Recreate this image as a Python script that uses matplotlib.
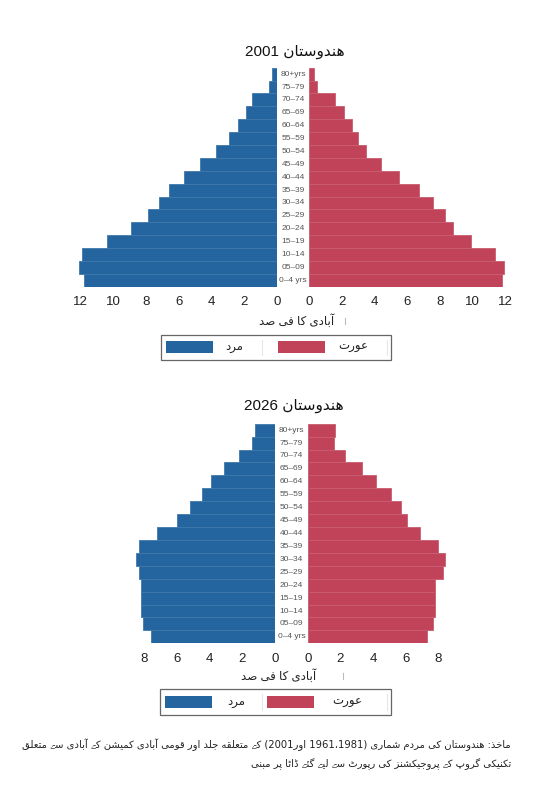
import re
import numpy as np
import matplotlib
matplotlib.use('Agg')
import matplotlib.pyplot as plt
from matplotlib import font_manager as fm
from matplotlib.ft2font import FT2Font
from matplotlib.patches import Rectangle
from matplotlib.lines import Line2D

# data: age groups from bottom (0-4) to top (80+), percent of population
ages = ['0–4 yrs', '05–09', '10–14', '15–19', '20–24', '25–29', '30–34', '35–39',
        '40–44', '45–49', '50–54', '55–59', '60–64', '65–69', '70–74', '75–79', '80+yrs']
male_2001 = [11.8, 12.1, 11.9, 10.4, 8.9, 7.9, 7.2, 6.6, 5.7, 4.7, 3.7, 2.9, 2.4, 1.9, 1.5, 0.5, 0.3]
female_2001 = [11.8, 11.9, 11.4, 9.9, 8.8, 8.3, 7.6, 6.7, 5.5, 4.4, 3.5, 3.0, 2.6, 2.1, 1.6, 0.5, 0.3]
male_2026 = [7.6, 8.1, 8.2, 8.2, 8.2, 8.3, 8.5, 8.3, 7.2, 6.0, 5.2, 4.5, 3.9, 3.1, 2.2, 1.4, 1.2]
female_2026 = [7.3, 7.7, 7.8, 7.8, 7.8, 8.3, 8.4, 8.0, 6.9, 6.1, 5.7, 5.1, 4.2, 3.3, 2.3, 1.6, 1.7]
ticks_2001 = [0, 2, 4, 6, 8, 10, 12]
ticks_2026 = [0, 2, 4, 6, 8]

title_2001 = 'ہندوستان 2001'
title_2026 = 'ہندوستان 2026'
xlabel = 'آبادی کا فی صد'
lab_male = 'مرد'
lab_female = 'عورت'
source_1 = 'ماخذ: ہندوستان کی مردم شماری (1961،1981 اور2001) کے متعلقہ جلد اور قومی آبادی کمیشن کے آبادی سے متعلق'
source_2 = 'تکنیکی گروپ کے پروجیکشنز کی رپورٹ سے لیے گئے ڈاٹا پر مبنی'

BLUE = '#24659f'
BLUE_EDGE = '#3f78ab'
RED = '#c0435a'
RED_EDGE = '#c95d71'

# --- fonts: DejaVu Sans has Arabic, look for an installed family with yeh barree too ---
ar_fonts = ['DejaVu Sans']
dv = FT2Font(fm.findfont('DejaVu Sans'))
extra = None
for f in fm.fontManager.ttflist:
    if f.name in ar_fonts:
        continue
    try:
        ft = FT2Font(f.fname)
    except Exception:
        continue
    if ft.get_char_index(0x06D2) or ft.get_char_index(0xFBAE):
        ar_fonts.append(f.name)
        extra = ft
        break

plt.rcParams['font.family'] = ['Liberation Sans'] + ar_fonts


def has(cp, ch):
    # keep everything in DejaVu Sans, only yeh barree may come from the other family
    if dv.get_char_index(cp):
        return True
    return ch == 'ے' and extra is not None and extra.get_char_index(cp) != 0


# --- small arabic shaper (matplotlib has no RTL / joining support) ---
FORMS = {
    'ا': (0xFE8D, 0xFE8E), 'آ': (0xFE81, 0xFE82), 'د': (0xFEA9, 0xFEAA), 'ذ': (0xFEAB, 0xFEAC),
    'ر': (0xFEAD, 0xFEAE), 'ز': (0xFEAF, 0xFEB0), 'و': (0xFEED, 0xFEEE), 'ڈ': (0xFB88, 0xFB89),
    'ے': (0xFBAE, 0xFBAF),
    'ب': (0xFE8F, 0xFE90, 0xFE91, 0xFE92), 'پ': (0xFB56, 0xFB57, 0xFB58, 0xFB59),
    'ت': (0xFE95, 0xFE96, 0xFE97, 0xFE98), 'ٹ': (0xFB66, 0xFB67, 0xFB68, 0xFB69),
    'ج': (0xFE9D, 0xFE9E, 0xFE9F, 0xFEA0), 'خ': (0xFEA5, 0xFEA6, 0xFEA7, 0xFEA8),
    'س': (0xFEB1, 0xFEB2, 0xFEB3, 0xFEB4), 'ش': (0xFEB5, 0xFEB6, 0xFEB7, 0xFEB8),
    'ص': (0xFEB9, 0xFEBA, 0xFEBB, 0xFEBC), 'ع': (0xFEC9, 0xFECA, 0xFECB, 0xFECC),
    'ف': (0xFED1, 0xFED2, 0xFED3, 0xFED4), 'ق': (0xFED5, 0xFED6, 0xFED7, 0xFED8),
    'ک': (0xFB8E, 0xFB8F, 0xFB90, 0xFB91), 'گ': (0xFB92, 0xFB93, 0xFB94, 0xFB95),
    'ل': (0xFEDD, 0xFEDE, 0xFEDF, 0xFEE0), 'م': (0xFEE1, 0xFEE2, 0xFEE3, 0xFEE4),
    'ن': (0xFEE5, 0xFEE6, 0xFEE7, 0xFEE8), 'ہ': (0xFBA6, 0xFBA7, 0xFBA8, 0xFBA9),
    'ی': (0xFBFC, 0xFBFD, 0xFBFE, 0xFBFF), 'ئ': (0xFE89, 0xFE8A, 0xFE8B, 0xFE8C),
}
BACKUP = {
    'ہ': (0xFEE9, 0xFEEA, 0xFEEB, 0xFEEC), 'ی': (0xFEEF, 0xFEF0, 0xFEF3, 0xFEF4),
    'ک': (0xFED9, 0xFEDA, 0xFEDB, 0xFEDC), 'ٹ': (0xFE95, 0xFE96, 0xFE97, 0xFE98),
    'پ': (0xFE8F, 0xFE90, 0xFE91, 0xFE92), 'ڈ': (0xFEA9, 0xFEAA), 'گ': (0xFED9, 0xFEDA, 0xFEDB, 0xFEDC),
    'ے': (0x06D2, 0x06D2),
}
LAST = {'ے': (0xFEEF, 0xFEF0)}  # alef maksura when no font has yeh barree


def shape_word(w):
    out = []
    for i, ch in enumerate(w):
        if ch not in FORMS:
            out.append(ch)
            continue
        f = FORMS[ch]
        prev = w[i - 1] if i > 0 else ''
        nxt = w[i + 1] if i + 1 < len(w) else ''
        jp = prev in FORMS and len(FORMS[prev]) == 4
        jn = len(f) == 4 and nxt in FORMS
        k = 3 if (jp and jn) else 1 if jp else 2 if jn else 0
        if has(f[k], ch):
            out.append(chr(f[k]))
        elif ch in BACKUP and has(BACKUP[ch][k], ch):
            out.append(chr(BACKUP[ch][k]))
        elif ch in LAST:
            out.append(chr(LAST[ch][k]))
        else:
            out.append(ch)
    return ''.join(reversed(out))


def rtl(text):
    words = []
    for tok in text.split(' '):
        runs = re.findall(r'[\u0621-\u06FF]+|[0-9][0-9،.]*[0-9]|[0-9]|.', tok)
        parts = []
        for r in reversed(runs):
            if '\u0621' <= r[0] <= '\u06FF':
                parts.append(shape_word(r))
            else:
                parts.append(r.translate(str.maketrans('()', ')(')))
        words.append(''.join(parts))
    return ' '.join(reversed(words))


# --- figure in pixel layout ---
W, H = 553, 787
S = 16.33  # pixels per percent
fig = plt.figure(figsize=(W / 100, H / 100), dpi=100)


def box(x0, y0, x1, y1):
    return [x0 / W, 1 - y1 / H, (x1 - x0) / W, (y1 - y0) / H]


def pyramid(male, female, ticks, xmax, zl, zr, ytop, ybot):
    y = np.arange(len(ages))
    axl = fig.add_axes(box(zl - xmax * S, ytop, zl, ybot))
    axr = fig.add_axes(box(zr, ytop, zr + xmax * S, ybot))
    axl.barh(y, male, height=1.0, color=BLUE, edgecolor=BLUE_EDGE, linewidth=0.6)
    axr.barh(y, female, height=1.0, color=RED, edgecolor=RED_EDGE, linewidth=0.6)
    axl.set_xlim(xmax, 0)
    axr.set_xlim(0, xmax)
    for ax in (axl, axr):
        ax.set_ylim(-0.5, len(ages) - 0.5)
        ax.set_yticks([])
        ax.set_xticks(ticks)
        ax.tick_params(axis='x', length=0, pad=7, labelsize=9.5, labelcolor='#222222')
        for s in ax.spines.values():
            s.set_visible(False)
        ax.patch.set_visible(False)
    mid = -(zr - zl) / 2 / S
    for i, a in enumerate(ages):
        axl.text(mid, i, a, ha='center', va='center', fontsize=6, color='#555555', clip_on=False)


def legend(x0, x1, y0, y1, bx, rx, mx, fx):
    fig.add_artist(Rectangle((x0 / W, 1 - y1 / H), (x1 - x0) / W, (y1 - y0) / H,
                             transform=fig.transFigure, fill=False, edgecolor='#666666', linewidth=0.9))
    py0, py1 = y0 + 6.5, y1 - 6.5
    fig.add_artist(Rectangle((bx / W, 1 - py1 / H), 47 / W, (py1 - py0) / H,
                             transform=fig.transFigure, color=BLUE, linewidth=0))
    fig.add_artist(Rectangle((rx / W, 1 - py1 / H), 47 / W, (py1 - py0) / H,
                             transform=fig.transFigure, color=RED, linewidth=0))
    for sx in (262, x1 - 4):
        fig.add_artist(Line2D([sx / W, sx / W], [1 - (y0 + 5) / H, 1 - (y1 - 5) / H],
                              transform=fig.transFigure, color='#e6e6e6', linewidth=0.8))
    yc = 1 - (y0 + y1) / 2 / H
    fig.text(mx / W, yc, rtl(lab_male), ha='center', va='center', fontsize=8.5, color='#222222')
    fig.text(fx / W, yc, rtl(lab_female), ha='center', va='center', fontsize=8.5, color='#222222')


# 2001
fig.text(294.5 / W, 1 - 52 / H, rtl(title_2001), ha='center', va='center', fontsize=11, color='#111111')
pyramid(male_2001, female_2001, ticks_2001, 12.55, 276.7, 309.3, 67.7, 286.7)
fig.text(297 / W, 1 - 321 / H, rtl(xlabel), ha='center', va='center', fontsize=8.5, color='#222222')
fig.add_artist(Line2D([345 / W] * 2, [1 - 318 / H, 1 - 324 / H], transform=fig.transFigure,
                      color='#bbbbbb', linewidth=0.8))
legend(160.5, 391, 334.5, 359.5, 166, 278, 234, 353)

# 2026
fig.text(293.5 / W, 1 - 406 / H, rtl(title_2026), ha='center', va='center', fontsize=11, color='#111111')
pyramid(male_2026, female_2026, ticks_2026, 8.9, 275.0, 307.7, 423.7, 643.3)
fig.text(279 / W, 1 - 676 / H, rtl(xlabel), ha='center', va='center', fontsize=8.5, color='#222222')
fig.add_artist(Line2D([343 / W] * 2, [1 - 673 / H, 1 - 679 / H], transform=fig.transFigure,
                      color='#bbbbbb', linewidth=0.8))
legend(160, 390.5, 689, 714.5, 165, 267, 236, 347)

# source note
fig.text(511 / W, 1 - 745 / H, rtl(source_1), ha='right', va='center', fontsize=7.2, color='#222222',
         family=ar_fonts)
fig.text(511 / W, 1 - 764 / H, rtl(source_2), ha='right', va='center', fontsize=7.2, color='#222222',
         family=ar_fonts)

fig.savefig('out.png', dpi=100)
